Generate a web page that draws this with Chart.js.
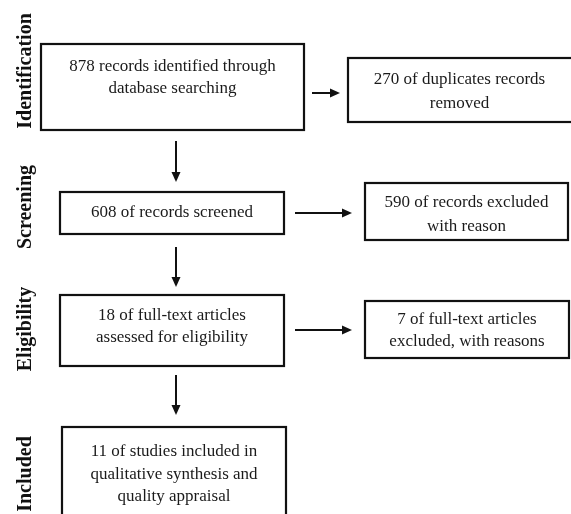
<!DOCTYPE html>
<html>
<head>
<meta charset="utf-8">
<script src="https://cdn.jsdelivr.net/npm/chart.js@4/dist/chart.umd.min.js"></script>
<style>
html,body{margin:0;padding:0;background:#fff;}
#wrap{width:571px;height:514px;position:relative;}
</style>
</head>
<body>
<div id="wrap"><canvas id="c"></canvas></div>
<script>
// ---- data ----
const stages = ['Identification', 'Screening', 'Eligibility', 'Included'];
const counts = [878, 270, 608, 590, 18, 7, 11];
const boxLines = [
  [counts[0] + ' records identified through', 'database searching'],
  [counts[1] + ' of duplicates records', 'removed'],
  [counts[2] + ' of records screened'],
  [counts[3] + ' of records excluded', 'with reason'],
  [counts[4] + ' of full-text articles', 'assessed for eligibility'],
  [counts[5] + ' of full-text articles', 'excluded, with reasons'],
  [counts[6] + ' of studies included in', 'qualitative synthesis and', 'quality appraisal']
];
// links between boxes: [from, to]
const links = [[0, 1], [0, 2], [2, 3], [2, 4], [4, 5], [4, 6]];

// ---- layout (axis units = pixels of the 571x514 frame) ----
const boxRects = [ // x0, y0, x1, y1
  [41, 44, 304, 130],
  [348, 58, 580, 122],
  [60, 192, 284, 234],
  [365, 183, 568, 240],
  [60, 295, 284, 366],
  [365, 301, 569, 358],
  [62, 427, 286, 530]
];
const textTop = [67, 80, 213, 203, 316, 320, 452]; // center of first line
const lineGap = [22, 24, 0, 24, 22, 22, 22.5];
const arrowPaths = [ // x0,y0,x1,y1
  [312, 93, 340, 93],
  [176, 141, 176, 182],
  [295, 213, 352, 213],
  [176, 247, 176, 287],
  [295, 330, 352, 330],
  [176, 375, 176, 415]
];
const stageY = [71, 207, 329, 474];
const stageX = 26;

const flowPlugin = {
  id: 'flow',
  afterDraw(chart) {
    const ctx = chart.ctx, xs = chart.scales.x, ys = chart.scales.y;
    const X = v => xs.getPixelForValue(v), Y = v => ys.getPixelForValue(v);
    ctx.save();
    ctx.fillStyle = '#fff';
    ctx.fillRect(0, 0, chart.width, chart.height);
    // boxes
    ctx.strokeStyle = '#111';
    ctx.lineWidth = 2.2;
    boxRects.forEach((r, i) => {
      ctx.strokeRect(X(r[0]), Y(r[1]), X(r[2]) - X(r[0]), Y(r[3]) - Y(r[1]));
      ctx.fillStyle = '#1a1a1a';
      ctx.font = '17px "Liberation Serif", "Times New Roman", serif';
      ctx.textAlign = 'center';
      ctx.textBaseline = 'middle';
      const cx = (X(r[0]) + X(Math.min(r[2], 571))) / 2;
      boxLines[i].forEach((t, k) => {
        ctx.fillText(t, cx, Y(textTop[i] + k * lineGap[i]));
      });
    });
    // arrows
    ctx.fillStyle = '#111';
    ctx.lineWidth = 2;
    links.forEach((lk, i) => {
      const a = arrowPaths[i];
      const x0 = X(a[0]), y0 = Y(a[1]), x1 = X(a[2]), y1 = Y(a[3]);
      const ang = Math.atan2(y1 - y0, x1 - x0);
      const L = 10, W = 4.5;
      const bx = x1 - L * Math.cos(ang), by = y1 - L * Math.sin(ang);
      ctx.beginPath();
      ctx.moveTo(x0, y0);
      ctx.lineTo(bx, by);
      ctx.stroke();
      ctx.beginPath();
      ctx.moveTo(x1, y1);
      ctx.lineTo(bx + W * Math.sin(ang), by - W * Math.cos(ang));
      ctx.lineTo(bx - W * Math.sin(ang), by + W * Math.cos(ang));
      ctx.closePath();
      ctx.fill();
    });
    // stage labels
    ctx.fillStyle = '#111';
    ctx.font = 'bold 20px "Liberation Serif", "Times New Roman", serif';
    ctx.textAlign = 'center';
    ctx.textBaseline = 'middle';
    stages.forEach((s, i) => {
      ctx.save();
      ctx.translate(X(stageX), Y(stageY[i]));
      ctx.rotate(-Math.PI / 2);
      ctx.fillText(s, 0, 0);
      ctx.restore();
    });
    ctx.restore();
  }
};

new Chart(document.getElementById('c'), {
  type: 'scatter',
  data: {
    datasets: [{
      label: 'boxes',
      data: boxRects.map((r, i) => ({ x: (r[0] + r[2]) / 2, y: (r[1] + r[3]) / 2, n: counts[i] })),
      pointRadius: 0
    }]
  },
  options: {
    responsive: true,
    maintainAspectRatio: false,
    animation: false,
    layout: { padding: 0 },
    plugins: { legend: { display: false }, tooltip: { enabled: false } },
    scales: {
      x: { type: 'linear', min: 0, max: 571, display: false },
      y: { type: 'linear', min: 0, max: 514, reverse: true, display: false }
    }
  },
  plugins: [flowPlugin]
});
</script>
</body>
</html>
